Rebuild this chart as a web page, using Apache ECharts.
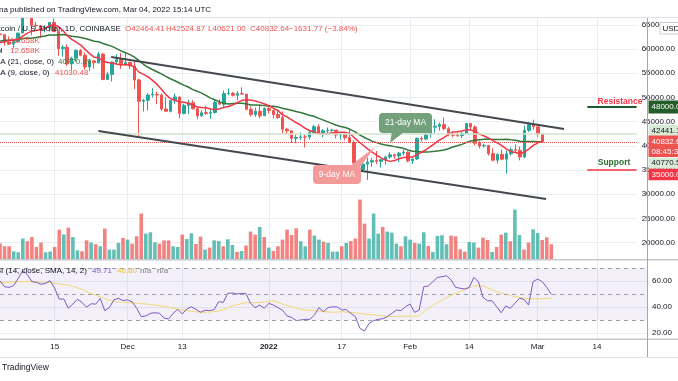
<!DOCTYPE html>
<html><head><meta charset="utf-8">
<script src="https://cdn.jsdelivr.net/npm/echarts@6/dist/echarts.min.js"></script>
<style>html,body{margin:0;padding:0;background:#fff}#c{width:678px;height:381px}</style>
</head><body><div id="c"></div>
<script>
// ---- data (Nov 3 2021 .. Mar 4 2022, daily) ----
const opens = [63100,62950,61450,61000,61530,63300,67550,66950,64880,64800,
64150,64400,65500,63600,60100,60350,56900,58100,59700,58700,
56300,57550,57150,58950,53700,54750,57300,57800,56950,57200,
56500,53600,49200,49400,50500,50600,50500,47600,47150,49350,
50100,46700,48350,48900,47650,46200,46850,46700,46900,48950,
48600,50800,50850,50450,50800,50700,47550,46450,47150,46200,
47750,47300,46450,45850,43450,43100,41550,41700,41850,41820,
42750,43950,42600,43100,43200,43250,42250,42400,41700,40700,
36450,35050,36250,36650,36950,36800,37150,37700,38150,37900,
38500,38700,36900,37300,41550,41400,42400,43850,44050,44400,
43550,42400,42200,42100,42550,44600,43900,40550,40000,40100,
38400,37050,38250,37250,38350,39200,39100,37700,43200,44400,
43950,42464.41];
const highs = [63500,63100,62600,61600,63300,67800,68530,69000,65600,65000,
64900,65500,66300,63600,60800,60950,58400,59900,60000,59300,
57900,57600,59400,59200,55300,57400,58900,59200,59100,57400,
57600,53900,49700,50900,51900,51200,50800,50100,49500,50800,
50200,48700,49500,49450,48000,47350,48300,47550,49350,49600,
51400,51850,51150,51300,52100,50700,48150,47900,48550,47900,
47950,47550,47500,47100,43750,43150,42300,42800,42250,43100,
44350,44450,43450,43800,43500,43250,42700,42600,43450,41100,
36850,36500,37550,37550,38950,37250,38000,38700,38350,38750,
39250,38850,37400,41750,41950,42650,44500,45500,44800,45850,
43950,43000,42750,42900,44750,44600,44200,40950,40450,40150,
39500,38450,39250,39000,39700,40300,39850,44200,44950,45400,
44100,42524.87];
const lows = [60400,60700,60800,60100,61350,63300,66300,62800,64100,62300,
63400,63600,63500,58600,58400,56500,55600,57400,58500,55700,
55400,55900,57000,53550,53650,53300,56700,55900,56500,55800,
51700,42000,47100,47300,50000,48600,47300,47100,46900,48700,
45700,46500,46600,47500,45500,45950,46400,45600,46650,48450,
48050,50450,50200,49450,50500,47300,46100,46000,45700,46200,
46700,45700,45550,42500,42450,40600,40550,41200,39650,41300,
42500,42300,41750,42600,42600,41550,41300,41150,40550,35450,
34000,34650,32950,35700,36250,35500,36150,37300,37350,36650,
38000,36600,36250,37050,40950,41150,41700,42700,43150,43200,
42000,41750,41850,41600,42450,43350,40100,39450,39650,38000,
36800,36350,37050,34300,38000,38600,37000,37450,42850,43350,
41850,40621.00];
const closes = [62950,61450,61000,61530,63300,67550,66950,64880,64800,64150,
64400,65500,63600,60100,60350,56900,58100,59700,58700,56300,
57550,57150,58950,53700,54750,57300,57800,56950,57200,56500,
53600,49200,49400,50500,50600,50500,47600,47150,49350,50100,
46700,48350,48900,47650,46200,46850,46700,46900,48950,48600,
50800,50850,50450,50800,50700,47550,46450,47150,46200,47750,
47300,46450,45850,43450,43100,41550,41700,41850,41820,42750,
43950,42600,43100,43200,43250,42250,42400,41700,40700,36450,
35050,36250,36650,36950,36800,37150,37700,38150,37900,38500,
38700,36900,37300,41550,41400,42400,43850,44050,44400,43550,
42400,42200,42100,42550,44600,43900,40550,40000,40100,38400,
37050,38250,37250,38350,39200,39100,37700,43200,44400,43950,
42450,40832.64];
const volumes = [13300,11000,11000,6800,5900,17500,15200,18800,10400,14100,
5900,6500,10400,25000,21000,26700,18800,7600,6800,16000,
14100,12700,11000,25900,8200,8200,13800,18000,16600,13200,
19400,38600,21700,22800,14300,13200,16000,16000,11000,10400,
20800,17100,21900,12900,19100,8200,9900,16000,15400,11000,
16900,12100,6200,7000,11600,23400,20800,27300,18800,9900,
7000,11000,16600,25000,20500,26200,15200,11000,25000,20000,
16600,14900,13800,6500,6500,11000,13800,15400,17500,50400,
30100,17500,38600,21700,27300,23400,22500,13200,11000,19400,
16600,13800,13200,22800,11300,6200,19700,20300,12700,20000,
19400,8400,6500,14600,14100,9900,18300,16300,6200,10400,
20800,22500,15200,41900,20500,8200,14100,25300,22200,16300,
18600,12658];
const ma9 = [61344,61467,61750,61853,61970,62598,63220,63651,63823,63957,
64284,64784,65014,64659,63859,62742,61989,61422,60817,59917,
59033,58317,58189,57450,57211,57122,56911,56717,56817,56700,
56306,55222,54744,54283,53533,52733,51694,50578,49783,49394,
49117,49000,48811,48489,48000,47917,47867,47594,47467,47678,
47950,48122,48472,48972,49400,49494,49444,49244,48978,48639,
48289,47806,47267,46461,45967,45422,44817,44333,43678,43172,
42894,42533,42494,42506,42678,42739,42800,42783,42556,41722,
40883,40122,39394,38711,38106,37522,37078,36794,36956,37339,
37611,37639,37678,38206,38678,39200,39833,40517,41172,41711,
42322,42867,42928,43056,43300,43306,42917,42428,42044,41600,
41028,40600,40011,39317,38794,38633,38378,38722,39389,40156,
40622,41030.48];
const ma21 = [61621,61817,61783,61813,61897,62161,62287,62234,62358,62522,
62670,62891,62915,62903,62993,62817,62620,62515,62389,62165,
61893,61617,61498,61150,60828,60542,60078,59601,59236,58840,
58338,57614,56848,56229,55774,55310,54867,54345,53852,53443,
52986,52548,52155,51617,51260,50883,50379,49860,49479,49069,
48798,48648,48724,48786,48790,48648,48450,48429,48383,48307,
48174,48162,48043,47783,47567,47345,47100,46869,46629,46333,
46112,45721,45371,45010,44648,44245,44000,43774,43467,43002,
42398,41871,41405,40981,40664,40381,40198,40029,39840,39681,
39488,39152,38900,38826,38740,38707,38783,38862,38990,39126,
39410,39750,40029,40310,40674,41012,41174,41283,41376,41400,
41331,41310,41326,41376,41264,41155,40931,40900,40917,40895,
40843,40770.29];
const rsi = [60.2,55.6,55.1,56.5,62,67.9,65,59.5,59,57.5,
58.2,60.2,54.5,46,46.2,39,42.3,46,43.5,39.8,
42.5,42.2,46.5,37.2,39.5,45.5,46.7,45,45.5,44,
39,32.6,33.1,35.1,35.6,35.2,31.5,30.8,35.1,38.2,
34.6,38.5,40.2,38.2,36,37.5,37.3,38,44.1,43.5,
50.5,50.8,50,50.5,50.2,42.8,39.5,41.5,39,42.8,
41.5,39.5,37.5,33.1,32,29.5,30,30.5,30.5,33.8,
39.5,36.5,39.5,40.2,40,37.7,38,35.1,32.6,23.6,
21.5,27.4,29.5,30.5,31,32.6,35.1,37.7,37.2,40.2,
42.3,35.9,37.7,55.6,56.2,59.5,62.8,63.3,64.1,60.8,
55.1,54.4,53.8,55.1,62.8,59.5,47.4,44.8,44.8,40.2,
35.6,40.8,39,42.8,46.7,45.9,41.5,59.5,61.5,59.5,
55.1,49.71];
const rsiMa = [58.7,58.9,59.1,59.2,59.4,59.6,59.6,59.5,59.4,59.2,
59.0,58.7,58.2,57.7,57.3,56.9,55.8,54.7,53.6,52.0,
50.4,49.1,47.9,46.5,45.2,44.1,43.9,43.6,43.4,43.3,
43.0,42.6,42.3,42.0,41.5,41.0,40.4,39.8,39.1,38.4,
37.7,37.2,36.7,36.3,35.9,36.0,36.2,36.5,36.9,38.0,
39.4,40.8,41.7,42.6,43.3,43.3,43.3,43.3,43.8,44.3,
44.8,43.6,42.3,41.2,40.2,39.2,38.2,37.8,37.5,37.2,
36.9,36.5,36.2,35.9,36.1,36.4,36.1,35.8,35.5,35.1,
34.6,34.2,33.8,33.5,33.2,32.9,32.6,32.7,32.8,32.9,
33.0,33.0,33.1,36.4,38.8,41.2,43.3,45.4,47.3,49.0,
50.5,52.0,53.4,54.8,56.2,56.4,56.2,54.8,53.3,51.8,
50.8,49.8,48.8,47.9,47.4,46.9,46.5,46.2,46.3,46.5,
46.6,46.80];
const tickDates = ['2021-11-15','2021-12-01','2021-12-13','2022-01-01','2022-01-17','2022-02-01','2022-02-14','2022-03-01','2022-03-14'];
const tickLabels = ['15','Dec','13','2022','17','Feb','14','Mar','14'];
// drawings (data coordinates: day index, price)
const upperChannel = [[24.8,58348],[125.8,43480]];
const lowerChannel = [[21.95,43067],[121.8,29025]];
const resistanceLevel = 48000, supportLevel = 35000, zoneStart = 131;
const markedLevel = 42441.1, markedLevel2 = 40770.5, lastPrice = 40832.64;

// category days from Nov 3 2021 through Mar 25 2022
const categories = [];
for (let i = 0; i < 143; i++) {
  categories.push(new Date(Date.UTC(2021, 10, 3 + i)).toISOString().slice(0, 10));
}
const FF = '"Liberation Sans", Arial, sans-serif';
const UP = '#26a69a', DN = '#ef5350';
const candleData = closes.map((c, i) => [opens[i], c, lows[i], highs[i]]);
const volData = volumes.map((v, i) => ({value: v, itemStyle: {color: closes[i] >= opens[i] ? 'rgba(38,166,154,0.72)' : 'rgba(239,83,80,0.72)'}}));
const isTick = (i, v) => tickDates.indexOf(v) >= 0;
const gridCol = '#e9eef3';

const chart = echarts.init(document.getElementById('c'));
const option = {
  animation: false,
  backgroundColor: '#ffffff',
  textStyle: {fontFamily: FF},
  grid: [
    {left: 0, right: 31, top: 0.57, height: 266.35},
    {left: 0, right: 31, top: 179.3, height: 80},
    {left: 0, right: 31, top: 255, height: 104},
    {left: 0, right: 31, top: 17, height: 322}
  ],
  xAxis: [
    {type: 'category', gridIndex: 0, data: categories, boundaryGap: false, show: false},
    {type: 'category', gridIndex: 1, data: categories, boundaryGap: false, show: false},
    {type: 'category', gridIndex: 2, data: categories, boundaryGap: false, show: false},
    {type: 'value', gridIndex: 0, min: 0, max: categories.length - 1, show: false},
    {type: 'category', gridIndex: 3, data: categories, boundaryGap: false,
      axisLine: {show: false}, axisTick: {show: false},
      axisLabel: {interval: isTick, margin: 4, fontSize: 8, color: '#131722', fontFamily: FF,
        formatter: v => { const k = tickDates.indexOf(v); if (k < 0) return ''; return tickLabels[k] === '2022' ? '{b|2022}' : tickLabels[k]; },
        rich: {b: {fontWeight: 'bold', fontSize: 8, color: '#131722', fontFamily: FF}}},
      splitLine: {show: true, interval: isTick, lineStyle: {color: gridCol, width: 1}}}
  ],
  yAxis: [
    {type: 'value', gridIndex: 0, position: 'right', min: 15000, max: 70000, interval: 5000,
      axisLine: {show: false}, axisTick: {show: false},
      axisLabel: {margin: 5, fontSize: 8, color: '#131722', fontFamily: FF,
        formatter: v => (v <= 15000 || v >= 70000) ? '' : v.toFixed(2)},
      splitLine: {show: true, showMinLine: false, showMaxLine: false, lineStyle: {color: gridCol}}},
    {type: 'value', gridIndex: 1, min: 0, max: 67500, show: false},
    {type: 'value', gridIndex: 2, position: 'right', min: 0, max: 80, interval: 20,
      axisLine: {show: false}, axisTick: {show: false},
      axisLabel: {margin: 5, fontSize: 8, color: '#131722', fontFamily: FF,
        formatter: v => (v <= 0 || v >= 80) ? '' : v.toFixed(2)},
      splitLine: {show: true, showMinLine: false, showMaxLine: false, lineStyle: {color: gridCol}}},
    {type: 'value', gridIndex: 3, min: 0, max: 1, show: false}
  ],
  series: [
    {type: 'bar', name: 'vol', xAxisIndex: 1, yAxisIndex: 1, data: volData, barWidth: 3.6, z: 1, silent: true},
    {type: 'candlestick', name: 'BTCUSD', xAxisIndex: 0, yAxisIndex: 0, data: candleData, barWidth: 3, z: 3,
      itemStyle: {color: UP, color0: DN, borderColor: UP, borderColor0: DN, borderWidth: 1},
      markLine: {symbol: ['none', 'none'], silent: true, label: {show: false},
        data: [
          {yAxis: markedLevel, lineStyle: {color: '#cfe5cb', width: 1.5, type: 'solid'}},
          {yAxis: lastPrice, lineStyle: {color: '#ef5350', width: 1, type: 'dotted'}}
        ]}},
    {type: 'line', name: 'MA21', xAxisIndex: 0, yAxisIndex: 0, data: ma21, showSymbol: false, z: 4,
      lineStyle: {color: '#33773a', width: 1.5}},
    {type: 'line', name: 'MA9', xAxisIndex: 0, yAxisIndex: 0, data: ma9, showSymbol: false, z: 4,
      lineStyle: {color: '#f23645', width: 1.5}},
    {type: 'line', name: 'upper', xAxisIndex: 3, yAxisIndex: 0, data: upperChannel, showSymbol: false, z: 5,
      lineStyle: {color: '#45484f', width: 1.8},
      markLine: {symbol: ['none', 'none'], silent: true, label: {show: false},
        data: [
          [{coord: [zoneStart, resistanceLevel], lineStyle: {color: '#1e5a27', width: 2, type: 'solid'}},
           {coord: [categories.length - 1, resistanceLevel]}],
          [{coord: [zoneStart, supportLevel], lineStyle: {color: '#f23645', width: 1.6, type: 'solid'}},
           {coord: [categories.length - 1, supportLevel]}]
        ]}},
    {type: 'line', name: 'lower', xAxisIndex: 3, yAxisIndex: 0, data: lowerChannel, showSymbol: false, z: 5,
      lineStyle: {color: '#45484f', width: 1.8}},
    {type: 'line', name: 'RSI', xAxisIndex: 2, yAxisIndex: 2, data: rsi, showSymbol: false, z: 4,
      lineStyle: {color: '#7e57c2', width: 1},
      markArea: {silent: true, itemStyle: {color: 'rgba(126,87,194,0.09)'}, data: [[{yAxis: 70}, {yAxis: 30}]]},
      markLine: {symbol: ['none', 'none'], silent: true, label: {show: false},
        lineStyle: {color: '#9a9da6', width: 1, type: [4, 4]},
        data: [{yAxis: 70}, {yAxis: 50}, {yAxis: 30}]}},
    {type: 'line', name: 'RSI MA', xAxisIndex: 2, yAxisIndex: 2, data: rsiMa, showSymbol: false, z: 3,
      lineStyle: {color: '#f2d774', width: 1}}
  ]
};
chart.setOption(option);

function T(x, y, text, fill, o) {
  o = o || {};
  const a = o.align || 'left';
  return {type: 'text', x: x, y: y, z: o.z || 30, silent: true,
    style: {text: text, fill: fill, font: (o.weight || 'normal') + ' ' + (o.size || 8) + 'px ' + FF,
      textAlign: a, align: a, textVerticalAlign: 'middle', verticalAlign: 'middle'}};
}
function R(x, y, w, h, fill, o) {
  o = o || {};
  return {type: 'rect', z: o.z || 29, silent: true, shape: {x: x, y: y, width: w, height: h, r: o.r || 0},
    style: {fill: fill, stroke: o.stroke || null, lineWidth: o.stroke ? 1 : 0}};
}
function L(x1, y1, x2, y2, stroke, w, z) {
  return {type: 'line', z: z || 40, silent: true, shape: {x1: x1, y1: y1, x2: x2, y2: y2}, style: {stroke: stroke, lineWidth: w}};
}
const py = v => chart.convertToPixel({yAxisIndex: 0}, v);
const g = [];
// header strip
g.push(R(0, 0, 678, 17, '#ffffff', {z: 50}));
g.push(L(0, 17.5, 678, 17.5, '#e0e3eb', 1, 51));
g.push(T(-1, 9.5, 'na published on TradingView.com, Mar 04, 2022 15:14 UTC', '#131722', {z: 52}));
// legend
const red = '#ef5350';
g.push(T(-8.5, 28.5, 'Bitcoin / U.S. Dollar, 1D, COINBASE', '#131722'));
g.push(T(125, 28.5, 'O42464.41', red));
g.push(T(166, 28.5, 'H42524.87', red));
g.push(T(208, 28.5, 'L40621.00', red));
g.push(T(250, 28.5, 'C40832.64', red));
g.push(T(289, 28.5, '\u22121631.77 (\u22123.84%)', red));
g.push(T(10, 41, '12.658K', red));
g.push(T(-8.5, 51, 'Vol', '#131722'));
g.push(T(10, 51, '12.658K', red));
g.push(T(-6.5, 62, 'MA (21, close, 0)', '#131722'));
g.push(T(58, 62, '40770.29', '#33773a'));
g.push(T(-6.5, 73, 'MA (9, close, 0)', '#131722'));
g.push(T(55, 73, '41030.48', red));
// RSI legend
g.push(T(-10, 270.7, 'RSI (14, close, SMA, 14, 2)', '#131722'));
g.push(T(92, 270.7, '49.71', '#7e57c2'));
g.push(T(117, 270.7, '46.80', '#e8c547'));
g.push(T(140, 270.7, 'n/a', '#787b86'));
g.push(T(157, 270.7, 'n/a', '#787b86'));
// pane separators / frame
g.push(L(0, 259.8, 678, 259.8, '#c5c8ce', 1.5));
g.push(L(0, 339.2, 678, 339.2, '#c5c8ce', 1.5));
g.push(L(647.5, 17, 647.5, 357, '#a3a6ae', 1));
g.push(L(0, 357.5, 678, 357.5, '#e0e3eb', 1));
g.push(T(2, 367.5, 'TradingView', '#131722', {size: 8.5}));
// USD tag
g.push(R(660, 22.5, 24, 11.5, '#ffffff', {z: 45, stroke: '#c9ccd3'}));
g.push(T(662.5, 28.5, 'USD', '#131722', {z: 46}));
// zone captions
g.push(T(620, py(resistanceLevel) - 5.5, 'Resistance', '#f23645', {align: 'center', weight: 'bold', size: 8.5}));
g.push(T(614, py(supportLevel) - 7.5, 'Support', '#2e6b2f', {align: 'center', weight: 'bold', size: 8.5}));
// price-scale labels
function box(yc, h, bg, lines, col, topPad) {
  const pad = topPad != null ? topPad : h / 2;
  const top = yc - pad;
  g.push(R(648.5, top, 40, h, bg, {z: 45}));
  lines.forEach((t, k) => g.push(T(651.5, top + pad + k * 10, t, col, {z: 46})));
}
box(py(resistanceLevel), 13, '#235d2a', ['48000.00'], '#ffffff');
box(py(markedLevel) - 3, 12.5, '#d8ebd5', ['42441.10'], '#131722');
box(py(lastPrice), 21.5, '#ef5350', ['40832.64', '08:45:38'], '#ffffff', 6.3);
box(py(markedLevel2) + 21, 11, '#d8ebd5', ['40770.50'], '#131722');
box(py(supportLevel) + 4.5, 11.5, '#f23645', ['35000.00'], '#ffffff');
// callouts
g.push({type: 'polygon', z: 35, silent: true, shape: {points: [[392, 132], [404, 132], [390, 143]]}, style: {fill: '#73a17b'}});
g.push(R(379, 113, 53, 20, '#73a17b', {z: 35, r: 4}));
g.push(T(405.5, 123, '21-day MA', '#ffffff', {z: 36, align: 'center', size: 8.5}));
g.push({type: 'polygon', z: 35, silent: true, shape: {points: [[350, 166], [361, 166], [375, 147]]}, style: {fill: '#f39a9a'}});
g.push(R(313, 165, 48, 19, '#f39a9a', {z: 35, r: 4}));
g.push(T(337, 174.5, '9-day MA', '#ffffff', {z: 36, align: 'center', size: 8.5}));
chart.setOption({graphic: {elements: g}});
</script>
</body></html>
